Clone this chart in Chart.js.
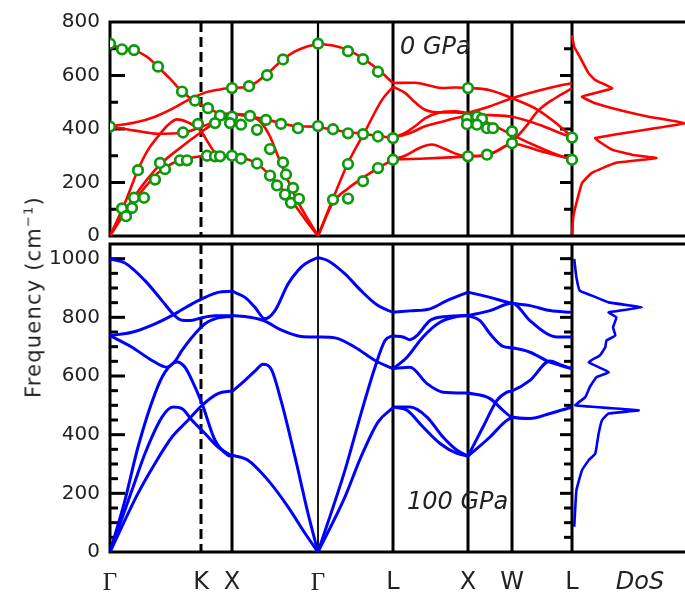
<!DOCTYPE html>
<html>
<head>
<meta charset="utf-8">
<script src="https://cdn.jsdelivr.net/npm/chart.js@4.4.1/dist/chart.umd.min.js"></script>
<style>
  body { margin: 0; background: #fff; width: 685px; height: 600px; position: relative; overflow: hidden;
         font-family: "DejaVu Sans", sans-serif; }
  #top { position: absolute; left: 0; top: 0; }
  #bot { position: absolute; left: 0; top: 222px; }
  #ytitle { position: absolute; left: 33px; top: 297px; transform: translate(-50%, -50%) rotate(-90deg);
            font-size: 21px; letter-spacing: 1.2px; color: #222; white-space: nowrap; }
  #ytitle sup { font-size: 13px; }
</style>
</head>
<body>
<canvas id="top" width="685" height="258"></canvas>
<canvas id="bot" width="685" height="378"></canvas>
<div id="ytitle">Frequency (cm<sup>&minus;1</sup>)</div>
<script>
// k-path (distance along path) and names
const kPos = [0, 91, 122, 208, 283, 358, 402, 462];
const kNames = ['Γ', 'K', 'X', 'Γ', 'L', 'X', 'W', 'L'];
const dosLabelPos = 530;
const yTicksTop = [0, 200, 400, 600, 800];
const yTicksBot = [0, 200, 400, 600, 800, 1000];

// 0 GPa bands, [k, frequency]
const red_GKX = [
  [[0,717],[12,700],[25,693],[37,670],[48,632],[60,588],[72,540],[84,506],[98,477],[108,461],[122,455]],
  [[0,410],[25,424],[45,446],[62,475],[78,508],[95,536],[110,548],[122,554]],
  [[0,409],[25,394],[48,382],[72,385],[88,403],[105,428],[122,452]],
  [[0,0],[15,124],[28,248],[38,322],[48,372],[58,415],[67,436],[78,425],[91,392],[98,350],[105,312],[112,300],[122,297]],
  [[0,0],[15,95],[33,192],[50,267],[70,329],[90,385],[107,428],[122,450]],
  [[0,0],[12,70],[28,150],[48,236],[63,273],[77,288],[91,298],[105,299],[122,297]]
];
const red_XG = [
  [[122,554],[138,558],[156,603],[173,660],[185,690],[195,706],[208,717]],
  [[122,457],[151,440],[171,422],[188,410],[208,409]],
  [[122,457],[138,450],[150,428],[160,372],[168,298],[185,149],[208,0]],
  [[122,297],[135,290],[146,273],[161,223],[178,149],[195,63],[208,0]]
];
const red_GL = [
  [[208,719],[223,712],[238,695],[253,664],[268,622],[283,572]],
  [[208,409],[223,397],[238,388],[253,382],[268,374],[283,367]],
  [[208,0],[223,140],[238,273],[255,391],[272,509],[283,558]],
  [[208,0],[223,125],[238,178],[253,218],[268,254],[283,286]]
];
const red_LX = [
  [[283,572],[305,573],[320,562],[332,553],[345,555],[358,554]],
  [[283,558],[295,535],[305,500],[315,472],[330,462],[345,462],[358,458]],
  [[283,367],[295,385],[305,410],[315,440],[330,462],[345,466],[358,460]],
  [[283,367],[300,385],[315,410],[330,425],[345,440],[358,452]],
  [[283,286],[295,300],[310,330],[322,342],[335,325],[348,305],[358,298]],
  [[283,286],[310,289],[335,293],[358,297]]
];
const red_XWL = [
  [[358,554],[380,545],[402,515],[428,471],[445,425],[462,370]],
  [[358,460],[380,485],[402,515],[430,545],[450,563],[462,571]],
  [[358,298],[377,304],[402,353],[415,405],[428,468],[445,515],[462,552]],
  [[358,455],[380,452],[402,446],[430,415],[450,385],[462,368]],
  [[358,452],[380,420],[402,378],[430,330],[450,300],[462,288]],
  [[358,297],[380,305],[402,345],[430,318],[450,298],[462,287]]
];

// 0 GPa measured points
const exp0_k = [0,12,24,48,72,85,98,110,122,122, 0,73,88,105,120,
  12,16,22,24,34,28,45,55,50,70,77,97,105,110,122,
  139,157,173,208, 131,140,147,156,171,188,208,
  160,131,147,160,173,167,176,175,183,181,189,
  238,253,268, 223,238,253,268,283, 223,238,238,253,268,283,
  358,357,357,367,372,367,377,383,358,377,402,402,462,462];
const exp0_f = [719,698,695,633,540,506,478,450,446,553, 409,387,419,422,422,
  103,74,105,143,143,246,211,250,273,283,283,300,298,298,300,
  560,601,660,719, 416,449,397,434,419,403,411,
  325,289,271,226,275,189,230,155,180,124,139,
  691,661,614, 399,384,381,372,366, 136,140,269,205,254,285,
  553,440,418,446,438,416,403,403,298,304,391,347,368,285];

// 0 GPa density of states
const dos0_f = [750,707,670,608,583,552,521,496,465,446,422,366,323,304,291,273,236,198,124,74,6];
const dos0_a = [0.0,0.02,0.07,0.15,0.21,0.36,0.09,0.21,0.48,0.69,1.02,0.21,0.36,0.54,0.76,0.39,0.18,0.09,0.04,0.012,0.0];

// 100 GPa bands
const blue_GKX = [
  [[0,999],[15,985],[35,925],[52,857],[65,805],[72,790],[80,789],[91,798],[105,805],[122,805]],
  [[0,738],[22,749],[45,778],[65,812],[82,846],[92,863],[108,885],[122,889]],
  [[0,738],[22,698],[42,653],[57,630],[65,650],[72,687],[82,732],[95,778],[108,798],[122,803]],
  [[0,0],[15,177],[28,358],[45,540],[55,613],[67,648],[75,630],[82,585],[92,506],[105,381],[118,330],[122,326]],
  [[0,0],[22,211],[35,336],[52,460],[63,494],[72,489],[82,449],[95,404],[108,358],[122,327]],
  [[0,0],[28,200],[45,302],[62,392],[78,449],[92,500],[108,540],[122,549]]
];
const blue_XG = [
  [[122,889],[135,868],[145,834],[155,795],[165,823],[178,914],[188,960],[195,982],[208,1004]],
  [[122,806],[140,800],[155,787],[171,757],[191,735],[208,733]],
  [[122,547],[135,585],[146,620],[153,640],[161,625],[171,517],[185,324],[198,132],[208,0]],
  [[122,330],[138,313],[158,245],[178,154],[195,64],[208,0]]
];
const blue_GL = [
  [[208,1004],[218,993],[235,948],[251,891],[268,840],[283,817]],
  [[208,733],[225,730],[245,698],[265,653],[283,625]],
  [[208,0],[235,279],[251,472],[265,630],[275,721],[283,738]],
  [[208,0],[235,188],[251,324],[268,443],[283,492]]
];
const blue_LX = [
  [[283,817],[300,822],[320,829],[337,857],[358,886]],
  [[283,736],[293,733],[300,724],[307,738],[320,789],[337,803],[358,806]],
  [[283,625],[297,664],[313,733],[330,783],[347,803],[358,806]],
  [[283,625],[300,630],[317,574],[333,545],[358,542]],
  [[283,494],[300,494],[317,460],[333,392],[347,347],[358,327]],
  [[283,494],[297,483],[313,426],[330,370],[347,336],[358,327]]
];
const blue_XWL = [
  [[358,886],[380,868],[402,848],[420,840],[440,823],[462,817]],
  [[358,806],[380,823],[402,848],[420,789],[437,744],[447,733],[462,733]],
  [[358,806],[370,789],[380,744],[393,701],[402,696],[420,681],[440,647],[462,625]],
  [[358,542],[380,523],[393,483],[402,460],[420,455],[440,472],[462,494]],
  [[358,327],[373,426],[387,517],[397,545],[402,549],[420,585],[440,651],[450,639],[462,625]],
  [[358,327],[380,392],[393,438],[402,460]]
];

// 100 GPa density of states
const dos100_f = [999,936,891,874,851,834,817,800,766,738,721,698,670,647,613,596,562,528,500,483,472,449,404,336,313,279,211,86];
const dos100_a = [0.02,0.04,0.07,0.18,0.33,0.63,0.33,0.40,0.37,0.39,0.31,0.30,0.25,0.15,0.33,0.22,0.16,0.12,0.03,0.60,0.33,0.27,0.24,0.21,0.15,0.09,0.04,0.02];

const dosWidth = 111;
const FONT = '"DejaVu Sans", sans-serif';

const bandSet = (lines, color, width) => lines.map(l => ({
  data: l.map(([k, f]) => ({ x: k, y: f })),
  borderColor: color, borderWidth: width, pointRadius: 0, fill: false,
  cubicInterpolationMode: 'monotone', order: 2
}));

const dosSet = (freqs, amps, color, width) => ({
  data: freqs.map((f, i) => ({ x: kPos[7] + amps[i] * dosWidth, y: f })),
  borderColor: color, borderWidth: width, pointRadius: 0, fill: false, tension: 0.1, order: 2
});

const framePlugin = {
  id: 'frame',
  beforeDatasetsDraw(chart, args, opts) {
    const { ctx, chartArea: a, scales: { x, y } } = chart;
    ctx.save();
    ctx.strokeStyle = '#000';
    kPos.forEach((k, i) => {
      if (i === 0) return;
      const px = x.getPixelForValue(k);
      ctx.lineWidth = kNames[i] === 'Γ' ? opts.gammaWidth : 3;
      ctx.setLineDash(kNames[i] === 'K' ? [10, 5] : []);
      ctx.beginPath(); ctx.moveTo(px, a.top); ctx.lineTo(px, a.bottom); ctx.stroke();
    });
    ctx.setLineDash([]);
    const Lx = x.getPixelForValue(kPos[7]);
    ctx.lineWidth = 3;
    for (let v = opts.minor; v < y.max; v += opts.minor) {
      const py = y.getPixelForValue(v);
      const major = v % 200 === 0;
      ctx.beginPath(); ctx.moveTo(a.left, py); ctx.lineTo(a.left + (major ? 15 : 8), py); ctx.stroke();
      ctx.beginPath(); ctx.moveTo(Lx, py); ctx.lineTo(Lx - (major ? 12 : 8), py); ctx.stroke();
    }
    ctx.beginPath();
    ctx.moveTo(a.right + 3, a.top); ctx.lineTo(a.left, a.top);
    ctx.lineTo(a.left, a.bottom); ctx.lineTo(a.right + 3, a.bottom);
    ctx.stroke();
    ctx.restore();
  },
  afterDatasetsDraw(chart, args, opts) {
    const { ctx, scales: { x, y } } = chart;
    ctx.save();
    ctx.font = 'italic 24px ' + FONT;
    ctx.fillStyle = '#222';
    ctx.textAlign = 'left';
    ctx.textBaseline = 'middle';
    ctx.fillText(opts.text, x.getPixelForValue(opts.tx), y.getPixelForValue(opts.ty));
    ctx.restore();
  }
};

function panel(canvas, datasets, yMax, yTicks, bottom, frameOpts, padding, autoPad) {
  const xLabels = kNames.concat(['DoS']);
  return new Chart(canvas, {
    type: 'line',
    data: { datasets },
    options: {
      responsive: false, animation: false,
      layout: { padding, autoPadding: autoPad },
      plugins: { legend: { display: false }, tooltip: { enabled: false }, frame: frameOpts },
      scales: {
        x: {
          type: 'linear', min: 0, max: 575, display: bottom,
          grid: { display: false, drawTicks: false }, border: { display: false },
          afterBuildTicks: s => { s.ticks = kPos.concat([dosLabelPos]).map(v => ({ value: v })); },
          afterFit: s => { if (bottom) s.height = 48; },
          ticks: {
            autoSkip: false, maxRotation: 0, padding: 16, color: '#222',
            callback: (v, i) => xLabels[i],
            font: c => xLabels[c.index] === 'Γ' ? { family: '"Liberation Serif", "DejaVu Serif", serif', size: 25 }
                 : xLabels[c.index] === 'DoS' ? { family: FONT, size: 24, style: 'italic' }
                 : { family: FONT, size: 24 }
          }
        },
        y: {
          type: 'linear', min: 0, max: yMax,
          grid: { display: false, drawTicks: false }, border: { display: false },
          afterBuildTicks: s => { s.ticks = yTicks.map(v => ({ value: v })); },
          afterFit: s => { s.width = 110; },
          ticks: { padding: 10, color: '#222', font: { family: FONT, size: 20 }, callback: v => String(v) }
        }
      }
    },
    plugins: [framePlugin]
  });
}

const topSets = [{
  type: 'scatter',
  data: exp0_k.map((k, i) => ({ x: k, y: exp0_f[i] })),
  showLine: false, pointRadius: 4.8, pointBorderWidth: 2.7,
  pointBorderColor: '#0a9a0a', pointBackgroundColor: '#ffffff', order: 0
}].concat(
  bandSet([].concat(red_GKX, red_XG, red_GL, red_LX, red_XWL), '#ff0000', 2.6),
  [dosSet(dos0_f, dos0_a, '#ff0000', 2.6)]
);

const botSets = bandSet([].concat(blue_GKX, blue_XG, blue_GL, blue_LX, blue_XWL), '#0000ff', 3)
  .concat([dosSet(dos100_f, dos100_a, '#0000ff', 2.6)]);

panel(document.getElementById('top'), topSets, 800, yTicksTop, false,
  { minor: 100, gammaWidth: 2.2, text: '0 GPa', tx: 290, ty: 703 },
  { top: 20, bottom: 20, left: 0, right: 0 }, false);

panel(document.getElementById('bot'), botSets, 1050, yTicksBot, true,
  { minor: 50, gammaWidth: 1.8, text: '100 GPa', tx: 297, ty: 167 },
  { top: 9, bottom: 0, left: 0, right: 0 }, true);
</script>
</body>
</html>
